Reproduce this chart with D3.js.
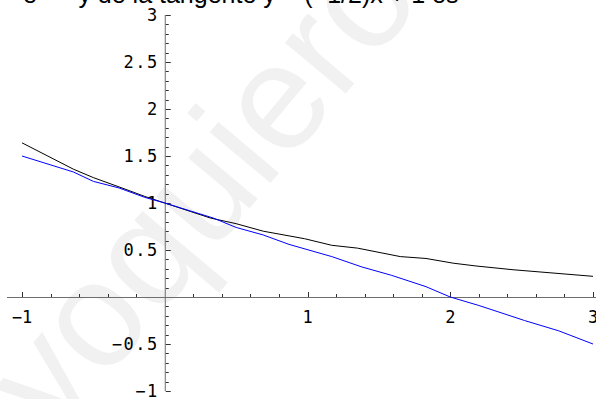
<!DOCTYPE html>
<html>
<head>
<meta charset="utf-8">
<script src="https://cdn.jsdelivr.net/npm/d3@7"></script>
<style>
  body { margin: 0; background: #fff; }
  svg { display: block; }
</style>
</head>
<body>
<svg id="svg" width="596" height="399"></svg>
<script>
// DATA
const curveX = [-1.00, -0.64, -0.50, -0.30, -0.14, 0.00, 0.18, 0.32, 0.50, 0.69, 0.98, 1.17, 1.35, 1.65, 1.83, 2.02, 2.18, 2.44, 3.00];
const curveY = [1.64, 1.36, 1.27, 1.16, 1.07, 1.00, 0.91, 0.84, 0.78, 0.70, 0.62, 0.55, 0.52, 0.43, 0.41, 0.36, 0.33, 0.29, 0.22];

const tangentX = [-1.00, -0.64, -0.50, -0.32, -0.14, 0.00, 0.34, 0.50, 0.69, 0.87, 1.17, 1.38, 1.59, 1.83, 2.00, 2.20, 2.52, 2.76, 3.00];
const tangentY = [1.50, 1.33, 1.23, 1.16, 1.06, 1.00, 0.84, 0.74, 0.66, 0.56, 0.43, 0.32, 0.23, 0.11, 0.00, -0.09, -0.25, -0.36, -0.50];

const xTicks = [-1, 1, 2, 3];
const xTickLabels = ["\u22121", "1", "2", "3"];
const yTicks = [-1, -0.5, 0.5, 1, 1.5, 2, 2.5, 3];
const yTickLabels = ["\u22121", "\u22120.5", "0.5", "1", "1.5", "2", "2.5", "3"];

// VARIABLES
const svg = d3.select("#svg");
const x = d3.scaleLinear().domain([-1, 3]).range([22, 593]);
const y = d3.scaleLinear().domain([-1, 3]).range([391, 15]);
const labelFont = "'DejaVu Sans Mono', 'Liberation Mono', monospace";

// watermark
svg.append("text")
  .attr("transform", "translate(55,440) rotate(-50)")
  .attr("font-family", "'Liberation Sans', Arial, sans-serif")
  .attr("font-size", 150)
  .attr("fill", "#f1f1f1")
  .text("yoquieroaprobar");

// title, mostly cut off by the top edge
const title = svg.append("text")
  .attr("x", 23)
  .attr("y", 3)
  .attr("font-family", "'Liberation Sans', Arial, sans-serif")
  .attr("font-size", 25)
  .attr("fill", "#000");
title.append("tspan").text("e");
title.append("tspan").attr("dy", -10).attr("font-size", 18).text("\u2212x/2");
title.append("tspan").attr("dy", 10).text(" y de la tangente y = (\u22121/2)x + 1 es");

// AXES
const axisColor = "#6e6e6e";
const tickColor = "#333";
const y0 = y(0), x0 = x(0);

svg.append("line")
  .attr("x1", x(-1.105)).attr("x2", x(3.03))
  .attr("y1", y0 + 0.5).attr("y2", y0 + 0.5)
  .attr("stroke", axisColor);
svg.append("line")
  .attr("x1", x0 + 0.5).attr("x2", x0 + 0.5)
  .attr("y1", y(3)).attr("y2", y(-1))
  .attr("stroke", axisColor);

const xMinor = d3.range(-1, 3.001, 0.2).map(v => +v.toFixed(1)).filter(v => v !== 0 && !xTicks.includes(v));
const yMinor = d3.range(-1, 3.001, 0.1).map(v => +v.toFixed(1)).filter(v => v !== 0 && !yTicks.includes(v));

const ticks = svg.append("g").attr("stroke", tickColor);
ticks.selectAll(".xt")
  .data(xTicks.map(v => [v, 5]).concat(xMinor.map(v => [v, 3])))
  .join("line")
  .attr("x1", d => Math.round(x(d[0])) + 0.5)
  .attr("x2", d => Math.round(x(d[0])) + 0.5)
  .attr("y1", y0)
  .attr("y2", d => y0 - d[1]);
ticks.selectAll(".yt")
  .data(yTicks.map(v => [v, 5]).concat(yMinor.map(v => [v, 3])))
  .join("line")
  .attr("y1", d => Math.round(y(d[0])) + 0.5)
  .attr("y2", d => Math.round(y(d[0])) + 0.5)
  .attr("x1", x0 + 1)
  .attr("x2", d => x0 + 1 + d[1]);

svg.append("g")
  .attr("font-family", labelFont)
  .attr("font-size", 17)
  .attr("text-anchor", "middle")
  .selectAll("text")
  .data(xTicks)
  .join("text")
  .attr("x", d => x(d))
  .attr("y", y0 + 26)
  .text((d, i) => xTickLabels[i]);

svg.append("g")
  .attr("font-family", labelFont)
  .attr("font-size", 17)
  .attr("letter-spacing", 1.5)
  .attr("text-anchor", "end")
  .selectAll("text")
  .data(yTicks)
  .join("text")
  .attr("x", x0 - 6)
  .attr("y", d => y(d))
  .attr("dy", "0.36em")
  .text((d, i) => yTickLabels[i]);

// CURVES
const line = d3.line().x(d => x(d[0])).y(d => y(d[1]));

svg.append("path")
  .datum(curveX.map((v, i) => [v, curveY[i]]))
  .attr("fill", "none")
  .attr("stroke", "#000")
  .attr("stroke-width", 1)
  .attr("d", line);

svg.append("path")
  .datum(tangentX.map((v, i) => [v, tangentY[i]]))
  .attr("fill", "none")
  .attr("stroke", "#0000ff")
  .attr("stroke-width", 1)
  .attr("d", line);
</script>
</body>
</html>
